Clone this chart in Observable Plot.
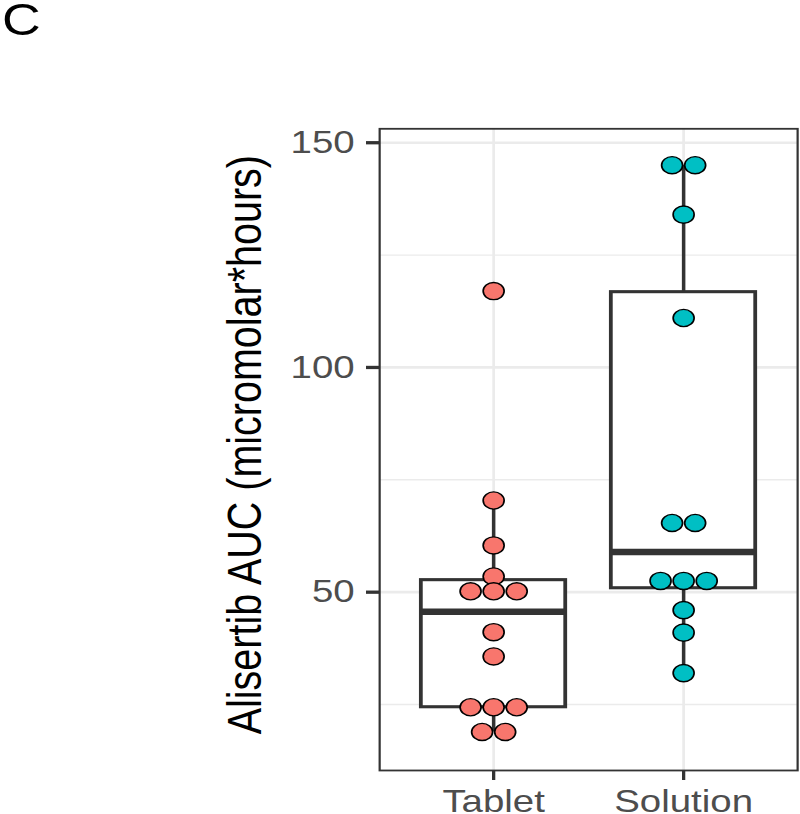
<!DOCTYPE html>
<html>
<head>
<meta charset="utf-8">
<script src="https://cdn.jsdelivr.net/npm/d3@7"></script>
<script src="https://cdn.jsdelivr.net/npm/@observablehq/plot@0.6"></script>
<style>
  html, body { margin: 0; padding: 0; background: #fff; overflow: hidden; }
  #wrap { width: 655.7px; height: 814px; transform: scaleX(1.22); transform-origin: 0 0; }
  #wrap svg { display: block; }
</style>
</head>
<body>
<div id="wrap"></div>
<script>
// ---- data ----
const categories = ["Tablet", "Solution"];
const tabletAUC = [117, 70.4, 60.4, 53.5, 50.2, 50.2, 50.2, 41.1, 35.7, 24.4, 24.4, 24.4, 18.9, 18.9];
const solutionAUC = [145, 145, 134, 111, 65.4, 65.4, 52.5, 52.5, 52.5, 46, 41, 32];
const yTicks = [50, 100, 150];
const yMinorTicks = [25, 75, 125];
const panelLabel = "C";
const yLabel = "Alisertib AUC (micromolar*hours)";
const fillColors = ["#F8766D", "#00BFC4"];

// ---- derived tables ----
const groups = [tabletAUC, solutionAUC];
const stats = groups.map((vals, i) => {
  const s = vals.slice().sort(d3.ascending);
  const q1 = d3.quantile(s, 0.25), median = d3.quantile(s, 0.5), q3 = d3.quantile(s, 0.75);
  const iqr = q3 - q1;
  const lo = d3.min(s.filter(v => v >= q1 - 1.5 * iqr));
  const hi = d3.max(s.filter(v => v <= q3 + 1.5 * iqr));
  return {i, q1, median, q3, lo, hi};
});
const halfBox = 0.38;      // box half width (category units)
const dotStep = 0.1214;    // stacking step between touching dots (category units)
const dots = [];
groups.forEach((vals, i) => {
  const bins = d3.groups(vals, v => v);
  for (const [v, arr] of bins) {
    arr.forEach((_, k) => dots.push({i, v, x: i + (k - (arr.length - 1) / 2) * dotStep}));
  }
});

const ink = "#333333";
const grid = "#EBEBEB";

const chart = Plot.plot({
  width: 655.7,
  height: 814,
  marginTop: 128.3,
  marginBottom: 44,
  marginLeft: 310.7,
  marginRight: 2.4,
  style: {fontFamily: "'Liberation Sans', Arial, sans-serif", background: "white"},
  x: {type: "linear", domain: [-0.6, 1.6], nice: false},
  y: {type: "linear", domain: [10.33, 153.1], nice: false},
  marks: [
    Plot.gridY(yMinorTicks, {stroke: grid, strokeOpacity: 1, strokeWidth: 1.4}),
    Plot.gridY(yTicks, {stroke: grid, strokeOpacity: 1, strokeWidth: 2.7}),
    Plot.gridX([0, 1], {stroke: grid, strokeOpacity: 1, strokeWidth: 2.2}),
    Plot.ruleX(stats, {x: "i", y1: "lo", y2: "q1", stroke: ink, strokeWidth: 2.9}),
    Plot.ruleX(stats, {x: "i", y1: "q3", y2: "hi", stroke: ink, strokeWidth: 2.9}),
    Plot.rect(stats, {x1: d => d.i - halfBox, x2: d => d.i + halfBox, y1: "q1", y2: "q3",
      fill: "white", stroke: ink, strokeWidth: 3.1}),
    Plot.ruleY(stats, {y: "median", x1: d => d.i - halfBox, x2: d => d.i + halfBox,
      stroke: ink, strokeWidth: 6.4}),
    Plot.dot(dots, {x: "x", y: "v", r: 8.6, fill: d => fillColors[d.i], stroke: "black", strokeWidth: 1.4}),
    Plot.frame({stroke: ink, strokeWidth: 1.8}),
    Plot.axisY(yTicks, {tickSize: 10.7, tickPadding: 9.8, fontSize: 31.5, stroke: ink, strokeWidth: 3.3,
      fill: "#4D4D4D", label: null}),
    Plot.axisX([0, 1], {tickFormat: i => categories[i], tickSize: 10, tickPadding: 9.5, fontSize: 31.5,
      stroke: ink, strokeWidth: 2.7, fill: "#4D4D4D", label: null}),
    Plot.text([yLabel], {text: d => d, frameAnchor: "left", rotate: -90, dx: -97.6, dy: -5,
      lineAnchor: "bottom", textAnchor: "middle", fontSize: 39.5, fill: "black"}),
    Plot.text([panelLabel], {text: d => d, frameAnchor: "top-left", dx: -309.5, dy: -93.3,
      lineAnchor: "bottom", textAnchor: "start", fontSize: 44, fill: "black"})
  ]
});
document.getElementById("wrap").appendChild(chart);
</script>
</body>
</html>
